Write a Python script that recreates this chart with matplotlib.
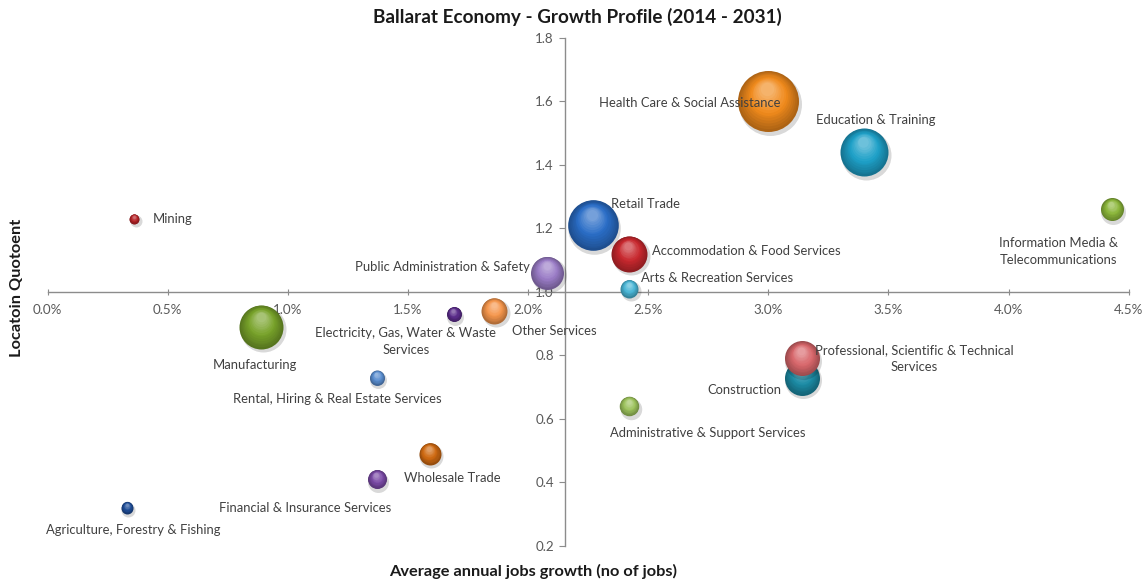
import numpy as np
import matplotlib.pyplot as plt
from matplotlib import transforms
from matplotlib.colors import to_rgb

plt.rcParams['font.family'] = ['Lato', 'DejaVu Sans']

# industry data
industries = [
    "Health Care & Social Assistance", "Retail Trade", "Education & Training",
    "Manufacturing", "Accommodation & Food Services", "Construction",
    "Professional, Scientific & Technical\nServices", "Public Administration & Safety",
    "Other Services", "Information Media &\nTelecommunications", "Wholesale Trade",
    "Administrative & Support Services", "Financial & Insurance Services",
    "Arts & Recreation Services", "Rental, Hiring & Real Estate Services",
    "Electricity, Gas, Water & Waste\nServices", "Agriculture, Forestry & Fishing", "Mining",
]
growth = [3.00, 2.27, 3.40, 0.89, 2.42, 3.14, 3.14, 2.08, 1.86, 4.43, 1.59,
          2.42, 1.37, 2.42, 1.37, 1.69, 0.33, 0.36]          # % per year
lq = [1.60, 1.21, 1.44, 0.89, 1.12, 0.73, 0.79, 1.06, 0.94, 1.26, 0.49,
      0.64, 0.41, 1.01, 0.73, 0.93, 0.32, 1.23]              # location quotient
bubble_size = [930, 640, 576, 484, 324, 306, 306, 272, 169, 132, 121,
               95, 90, 81, 56, 56, 36, 25]                    # relative employment
colors = ["#F08A1C", "#2A6DC6", "#1EA0C8", "#78A22A", "#C8282E", "#1C8CA6",
          "#D8676B", "#9A7CC6", "#F5964C", "#8BB63A", "#CF6A12", "#9CC25C",
          "#7A4AA6", "#4AB6D6", "#5A8ED0", "#5A2C8A", "#1F4D98", "#B52226"]

# label offsets (pixels from bubble centre) and horizontal alignment
label_pos = {
    0: (-79, -2, 'center'), 1: (53, 21, 'center'), 2: (11, 32, 'center'),
    3: (-7, -38, 'center'), 4: (23, 3, 'left'), 5: (-58, -12, 'center'),
    6: (112, 0, 'center'), 7: (-105, 6, 'center'), 8: (60, -20, 'center'),
    9: (-53, -42, 'center'), 10: (23, -24, 'center'), 11: (79, -27, 'center'),
    12: (-72, -29, 'center'), 13: (12, 11, 'left'), 14: (-39, -21, 'center'),
    15: (-48, -27, 'center'), 16: (6, -22, 'center'), 17: (19, 0, 'left'),
}

DPI = 100
fig = plt.figure(figsize=(11.46, 5.84), dpi=DPI)
ax = fig.add_axes([0.0416, 0.0656, 0.9433, 0.8694])
ax.set_xlim(0, 4.5)
ax.set_ylim(0.2, 1.8)

max_r = 30.5
scale = max_r / np.sqrt(max(bubble_size))


def draw_bubble(x, y, r, color, z):
    c = np.array(to_rgb(color))
    dark = c * 0.72
    light = c + (1 - c) * 0.35
    sh = transforms.offset_copy(ax.transData, fig=fig, x=1.5, y=-2.5, units='dots')
    ax.scatter([x], [y], s=(2 * (r + 1) * 72 / DPI) ** 2, color='#000000',
               alpha=0.15, lw=0, transform=sh, zorder=z)
    n = 14
    for i in range(n):
        f = i / (n - 1)
        rr = r * (1 - 0.78 * f)
        shift = 0.42 * r * f
        if f < 0.5:
            col = dark + (c - dark) * (f / 0.5)
        else:
            col = c + (light - c) * ((f - 0.5) / 0.5)
        tr = transforms.offset_copy(ax.transData, fig=fig, x=-0.1 * shift,
                                    y=shift, units='dots')
        ax.scatter([x], [y], s=(2 * rr * 72 / DPI) ** 2, color=col, lw=0,
                   transform=tr, zorder=z + 0.01 * (i + 1))


for k in range(len(industries)):
    r = scale * np.sqrt(bubble_size[k])
    draw_bubble(growth[k], lq[k], r, colors[k], 3 + k)
    dx, dy, ha = label_pos[k]
    ax.annotate(industries[k], (growth[k], lq[k]), xytext=(dx, dy),
                textcoords='offset pixels', ha=ha, va='center',
                fontsize=9.4, color='#404040', zorder=40, linespacing=1.5)

# axes crossing at the average point
ax.spines['left'].set_position(('data', 2.154))
ax.spines['bottom'].set_position(('data', 1.0))
ax.spines['top'].set_visible(False)
ax.spines['right'].set_visible(False)
for s in ('left', 'bottom'):
    ax.spines[s].set_color('#8C8C8C')
    ax.spines[s].set_linewidth(1.0)
    ax.spines[s].set_zorder(2.5)

ax.set_xticks(np.arange(0, 4.51, 0.5))
ax.set_xticklabels([f"{v:.1f}%" for v in np.arange(0, 4.51, 0.5)])
ax.set_yticks(np.arange(0.2, 1.81, 0.2))
ax.set_yticklabels([f"{v:.1f}" for v in np.arange(0.2, 1.81, 0.2)])
ax.tick_params(axis='x', direction='inout', length=5, colors='#8C8C8C',
               labelcolor='#595959', labelsize=9.6, pad=6)
ax.tick_params(axis='y', direction='out', length=4, colors='#8C8C8C',
               labelcolor='#595959', labelsize=9.6, pad=4)

fig.text(0.504, 0.971, "Ballarat Economy - Growth Profile (2014 - 2031)",
         ha='center', va='center', fontsize=13.6, fontweight='bold', color='#1a1a1a')
fig.text(0.465, 0.022, "Average annual jobs growth (no of jobs)",
         ha='center', va='center', fontsize=11.8, fontweight='bold', color='#1a1a1a')
fig.text(0.015, 0.507, "Locatoin Quotoent", rotation=90,
         ha='center', va='center', fontsize=11.8, fontweight='bold', color='#1a1a1a')

fig.savefig("out.png", dpi=DPI)
